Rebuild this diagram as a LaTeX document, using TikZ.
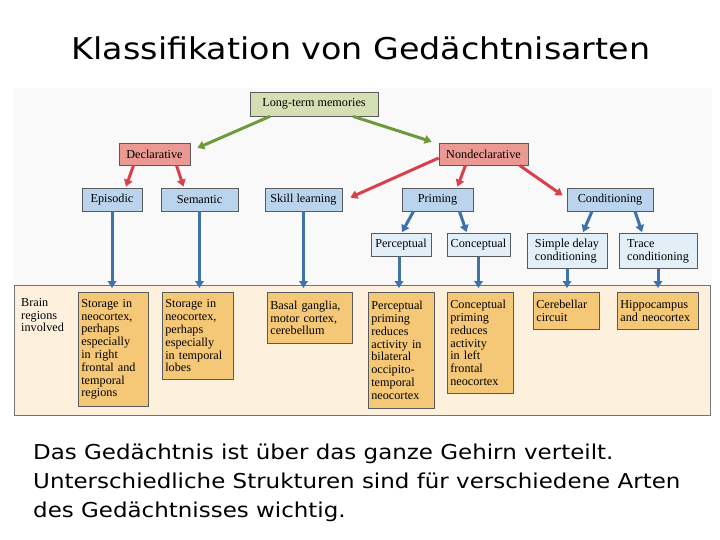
\documentclass[tikz,border=0pt]{standalone}
\usepackage{fontspec}
\setmainfont{DejaVu Sans}
\newfontfamily\capfont[FakeStretch=1.12]{DejaVu Sans}
\newfontfamily\titfont[FakeStretch=1.11]{DejaVu Sans}
\newfontfamily\dserif{Liberation Serif}
\usetikzlibrary{arrows.meta}
\definecolor{ltmgreen}{HTML}{D4E0B4}
\definecolor{redfill}{HTML}{EB9A93}
\definecolor{bluefill}{HTML}{B9D4EC}
\definecolor{lightblue}{HTML}{E2EEF8}
\definecolor{orangefill}{HTML}{F5C878}
\definecolor{panelfill}{HTML}{FDF0DC}
\definecolor{greenarrow}{HTML}{6F9A3C}
\definecolor{redarrow}{HTML}{D8404C}
\definecolor{bluearrow}{HTML}{3D73A9}
\definecolor{boxline}{HTML}{5A5A5A}
\newcommand{\dfont}{\dserif\fontsize{12.2}{12.8}\selectfont}
\tikzset{
  x=1pt, y=-1pt,
  gbox/.style={draw=boxline, line width=0.7pt, inner sep=0pt, font=\dfont, align=center},
  ltmbox/.style={gbox, fill=ltmgreen},
  redbox/.style={gbox, fill=redfill},
  bluebox/.style={gbox, fill=bluefill},
  lbluebox/.style={gbox, fill=lightblue},
  obox/.style={draw=boxline, line width=0.7pt, fill=orangefill, font=\dfont, align=left, anchor=north west, inner xsep=3pt, inner ysep=4pt},
  arr/.style={line width=3pt, -{Triangle[width=8.5pt,length=7pt]}},
  garr/.style={arr, draw=greenarrow, color=greenarrow},
  rarr/.style={arr, draw=redarrow, color=redarrow},
  barr/.style={arr, draw=bluearrow, color=bluearrow},
  captext/.style={font=\capfont\fontsize{20.5}{24}\selectfont, anchor=base west, inner sep=0pt},
}
\begin{document}
\begin{tikzpicture}
\useasboundingbox (0,0) rectangle (720,540);
\fill[white] (0,0) rectangle (720,540);
% faint background of the figure
\fill[black!2.5] (14,88) rectangle (712,285);
% title
\node[font=\titfont\fontsize{30}{34}\selectfont, anchor=base] (title) at (361,60) {Klassifikation von Gedächtnisarten};
% panel
\node[draw=black!55, line width=0.6pt, fill=panelfill, anchor=north west, minimum width=696, minimum height=130, inner sep=0pt] (panel) at (14,285) {};
\node[font=\dfont, align=left, anchor=north west, inner sep=0pt] (brain) at (21,298) {Brain\\regions\\involved};
% top level
\node[ltmbox, minimum width=128, minimum height=24] (ltm) at (314,104) {Long-term memories};
\node[redbox, minimum width=71, minimum height=22] (dec) at (154.5,154) {Declarative};
\node[redbox, minimum width=89, minimum height=22] (nd) at (483.5,154) {Nondeclarative};
% second level
\node[bluebox, minimum width=60, minimum height=23] (ep) at (112,199.5) {Episodic};
\node[bluebox, minimum width=77, minimum height=23] (se) at (199.5,199.5) {Semantic};
\node[bluebox, minimum width=77, minimum height=23] (sk) at (303.5,199.5) {Skill learning};
\node[bluebox, minimum width=71, minimum height=23] (pr) at (437.5,199.5) {Priming};
\node[bluebox, minimum width=86, minimum height=23] (co) at (610,199.5) {Conditioning};
% third level
\node[lbluebox, minimum width=60, minimum height=23] (pc) at (401,245) {Perceptual};
\node[lbluebox, minimum width=63, minimum height=23] (cc) at (478.5,245) {Conceptual};
\node[lbluebox, minimum width=80, minimum height=35, align=left] (sd) at (567,251) {Simple delay\\conditioning};
\node[lbluebox, minimum width=78, minimum height=35, align=left] (tr) at (658,251) {Trace\\conditioning};
% brain region boxes
\node[obox, text width=64, minimum height=114] (st1) at (78,292) {Storage in\\neocortex,\\perhaps\\especially\\in right\\frontal and\\temporal\\regions};
\node[obox, text width=65, minimum height=87] (st2) at (162,292) {Storage in\\neocortex,\\perhaps\\especially\\in temporal\\lobes};
\node[obox, text width=79, minimum height=51] (bg) at (267,292) {Basal ganglia,\\motor cortex,\\cerebellum};
\node[obox, text width=60, minimum height=116] (pp) at (368,292) {Perceptual\\priming\\reduces\\activity in\\bilateral\\occipito-\\temporal\\neocortex};
\node[obox, text width=60, minimum height=101] (cp) at (447,292) {Conceptual\\priming\\reduces\\activity\\in left\\frontal\\neocortex};
\node[obox, text width=60, minimum height=37] (cb) at (533,292) {Cerebellar\\circuit};
\node[obox, text width=75, minimum height=37] (hc) at (617,292) {Hippocampus\\and neocortex};
% green arrows
\draw[garr] ([xshift=-44]ltm.south) -- ([xshift=7,yshift=6]dec.east);
\draw[garr] ([xshift=39]ltm.south) -- ([xshift=-7,yshift=1]nd.north west);
% red arrows
\draw[rarr] ([xshift=-21]dec.south) -- ([xshift=14,yshift=1]ep.north);
\draw[rarr] ([xshift=22]dec.south) -- ([xshift=-16,yshift=1]se.north);
\draw[rarr] ([yshift=-4]nd.west) -- ([xshift=8,yshift=2]sk.east);
\draw[rarr] ([xshift=-18]nd.south) -- ([xshift=20,yshift=1]pr.north);
\draw[rarr] ([xshift=36]nd.south) -- ([xshift=-4,yshift=4]co.west);
% blue arrows
\draw[barr] (ep.south) -- ([yshift=4]ep.south |- st1.north);
\draw[barr] (se.south) -- ([yshift=4]se.south |- st2.north);
\draw[barr] (sk.south) -- ([yshift=4]sk.south |- bg.north);
\draw[barr] ([xshift=-24]pr.south) -- ([xshift=1,yshift=1]pc.north);
\draw[barr] ([xshift=22]pr.south) -- ([xshift=-12,yshift=1]cc.north);
\draw[barr] ([xshift=-18]co.south) -- ([xshift=16,yshift=1]sd.north);
\draw[barr] ([xshift=25]co.south) -- ([xshift=-16,yshift=1]tr.north);
\draw[barr] ([xshift=-2]pc.south) -- ([xshift=-2,yshift=4]pc.south |- pp.north);
\draw[barr] (cc.south) -- ([yshift=4]cc.south |- cp.north);
\draw[barr] (sd.south) -- ([yshift=4]sd.south |- cb.north);
\draw[barr] (tr.south) -- ([yshift=4]tr.south |- hc.north);
% caption
\node[captext] (cap1) at (33,459) {Das Gedächtnis ist über das ganze Gehirn verteilt.};
\node[captext] (cap2) at (33,488) {Unterschiedliche Strukturen sind für verschiedene Arten};
\node[captext] (cap3) at (33,517) {des Gedächtnisses wichtig.};
\end{tikzpicture}
\end{document}
